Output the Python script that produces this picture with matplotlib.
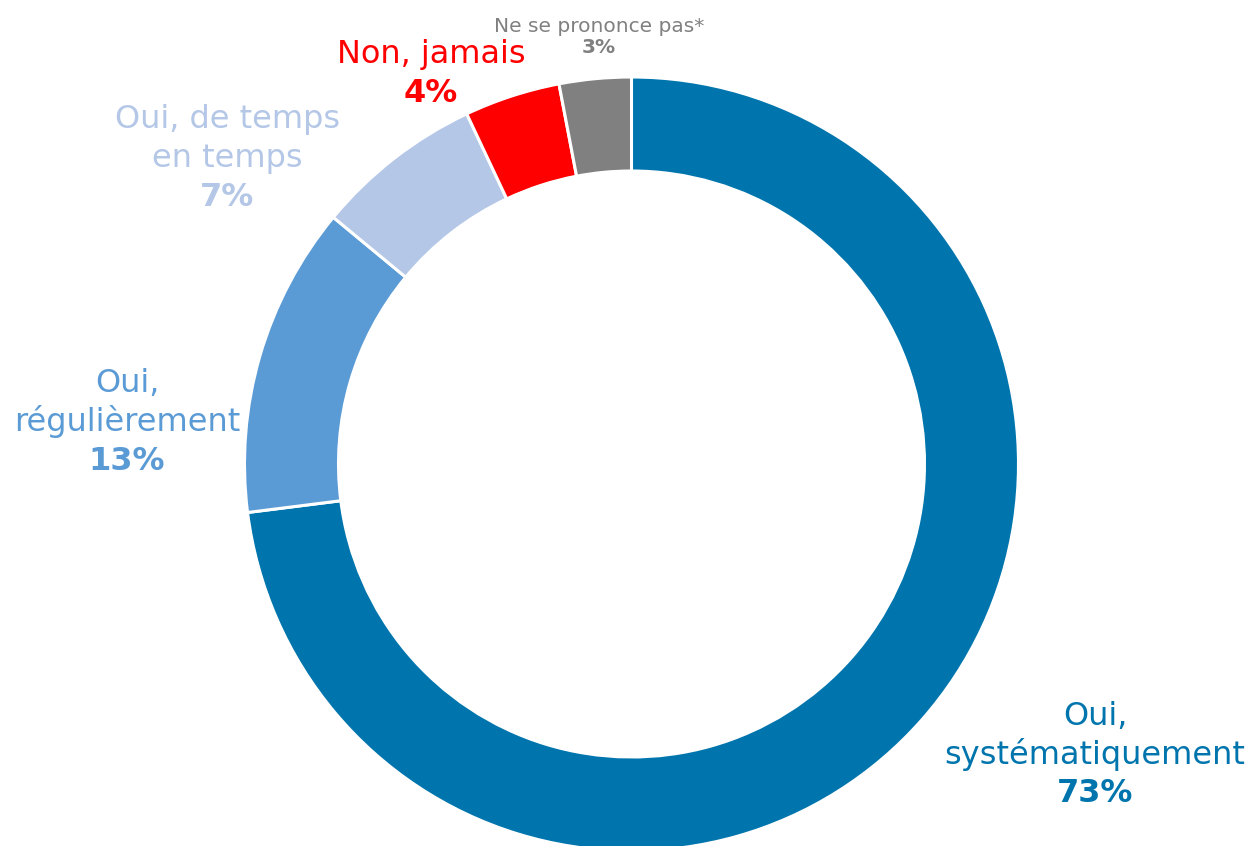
import matplotlib.pyplot as plt

# Données
labels = [["Oui,", "systématiquement"], ["Oui,", "régulièrement"], ["Oui, de temps", "en temps"],
          ["Non, jamais"], ["Ne se prononce pas*"]]
values = [73, 13, 7, 4, 3]
colors = ["#0075AD", "#5B9BD5", "#B4C7E7", "#FF0000", "#808080"]

W, H = 1252, 846
fig = plt.figure(figsize=(W / 100, H / 100), dpi=100)
ax = fig.add_axes([0, 0, 1, 1])

cx, cy, r = 631.5, H - 464, 387
ax.pie(values, colors=colors, startangle=90, counterclock=False,
       center=(cx, cy), radius=r,
       wedgeprops=dict(width=94, edgecolor="white", linewidth=2.2))
ax.set_xlim(0, W)
ax.set_ylim(0, H)
ax.set_aspect("equal")
ax.axis("off")

# position des étiquettes : x centre, ligne de base de la 1re ligne, pas, taille
label_pos = [(1095, 725, 38.5, 23), (127, 392, 39, 23), (227.5, 128, 39, 23),
             (431, 63, 39, 23), (599, 32, 21, 14.5)]

for lab, v, c, (x, y0, pitch, fs) in zip(labels, values, colors, label_pos):
    for i, line in enumerate(lab):
        ax.text(x, H - (y0 + i * pitch), line, color=c, fontsize=fs,
                ha="center", va="baseline")
    ax.text(x, H - (y0 + len(lab) * pitch), f"{v}%", color=c, fontsize=fs,
            fontweight="bold", ha="center", va="baseline")

fig.savefig("out.png", dpi=100)
